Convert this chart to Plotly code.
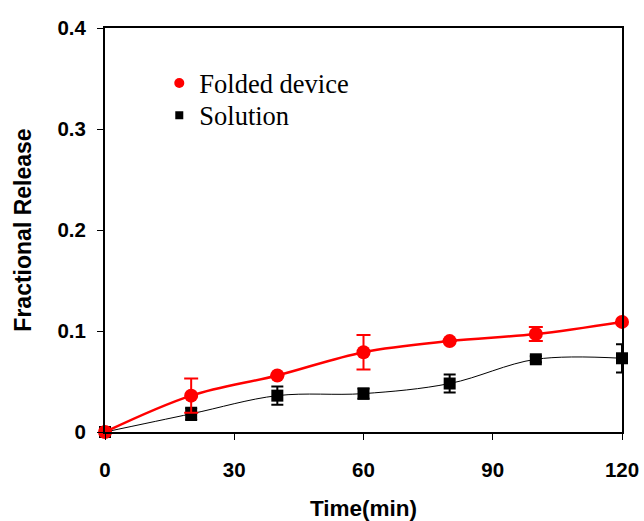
import plotly.graph_objects as go

time_min = [0, 20, 40, 60, 80, 100, 120]
folded = [0.0, 0.036, 0.056, 0.079, 0.090, 0.097, 0.109]
folded_err = [0.0, 0.017, 0.0, 0.017, 0.0, 0.007, 0.0]
solution = [0.0, 0.018, 0.036, 0.038, 0.048, 0.072, 0.073]
solution_err = [0.0, 0.006, 0.009, 0.005, 0.009, 0.003, 0.014]

x_ticks = [0, 30, 60, 90, 120]
y_ticks = [0, 0.1, 0.2, 0.3, 0.4]
y_ticktext = ["0", "0.1", "0.2", "0.3", "0.4"]

AX_FONT = "Liberation Sans, Arial, sans-serif"
LEG_FONT = "Liberation Serif, Times New Roman, serif"

fig = go.Figure()

fig.add_trace(go.Scatter(
    x=time_min, y=solution, mode="lines+markers",
    line=dict(color="black", width=1, shape="spline", smoothing=1),
    marker=dict(symbol="square", size=12, color="black"),
    error_y=dict(type="data", array=solution_err, visible=True,
                 color="black", thickness=2, width=6),
    cliponaxis=False, showlegend=False))

fig.add_trace(go.Scatter(
    x=time_min, y=folded, mode="lines+markers",
    line=dict(color="#ff0000", width=2.5, shape="spline", smoothing=1),
    marker=dict(symbol="circle", size=14, color="#ff0000"),
    error_y=dict(type="data", array=folded_err, visible=True,
                 color="#ff0000", thickness=2, width=7),
    cliponaxis=False, showlegend=False))

# legend entries
fig.add_trace(go.Scatter(x=[None], y=[None], mode="markers", name="Folded device",
                         marker=dict(symbol="circle", size=10, color="#ff0000"),
                         legend="legend"))
fig.add_trace(go.Scatter(x=[None], y=[None], mode="markers", name="Solution",
                         marker=dict(symbol="square", size=8, color="black"),
                         legend="legend2"))

leg_common = dict(xanchor="left", yanchor="top",
                  font=dict(family=LEG_FONT, size=26.5, color="black"),
                  bgcolor="rgba(0,0,0,0)")

fig.update_layout(
    template="none",
    width=644, height=521,
    margin=dict(l=105, r=22, t=28, b=89),
    paper_bgcolor="white", plot_bgcolor="white",
    legend=dict(x=0.105, y=0.9225, **leg_common),
    legend2=dict(x=0.105, y=0.843, **leg_common),
    xaxis=dict(range=[0, 120], tickvals=x_ticks, showgrid=False, zeroline=False,
               automargin="left", ticklabeloverflow="allow",
               showline=True, linewidth=2, linecolor="black", mirror=True,
               ticks="outside", ticklen=6, tickwidth=1, tickcolor="black",
               ticklabelstandoff=12,
               tickfont=dict(family=AX_FONT, size=20.5, color="black", weight="bold"),
               title=dict(text="Time(min)", standoff=23,
                          font=dict(family=AX_FONT, size=22.5, color="black", weight="bold"))),
    yaxis=dict(range=[0, 0.4], tickvals=y_ticks, ticktext=y_ticktext, showgrid=False,
               automargin="right",
               zeroline=False, showline=True, linewidth=2, linecolor="black", mirror=True,
               ticks="outside", ticklen=6, tickwidth=1, tickcolor="black",
               ticklabelstandoff=7,
               tickfont=dict(family=AX_FONT, size=20.5, color="black", weight="bold"),
               title=dict(text="Fractional Release", standoff=19,
                          font=dict(family=AX_FONT, size=23, color="black", weight="bold"))),
)

fig.write_html("out.html", config={"displayModeBar": False},
               post_script="document.body.style.margin='0';document.body.style.overflow='hidden';")
